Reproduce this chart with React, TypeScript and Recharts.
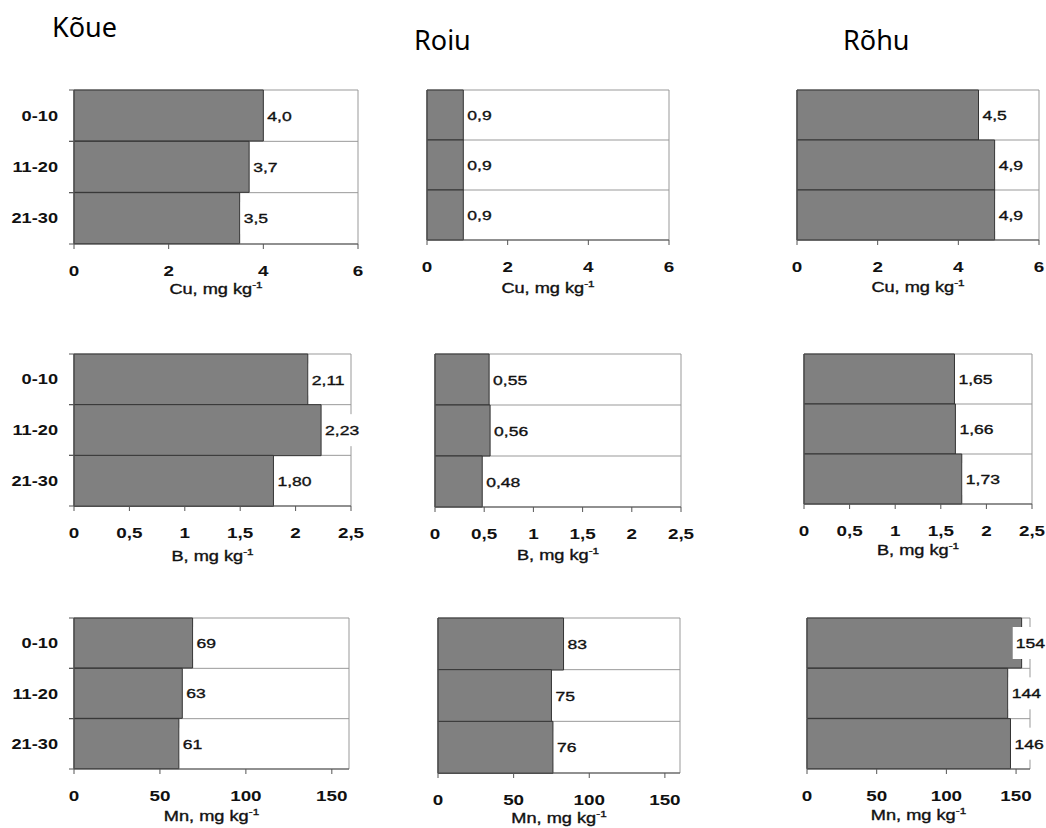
import React from "react";
import { BarChart, Bar, XAxis, YAxis, CartesianGrid, LabelList, Label } from "recharts";

// ---- data ----
const depths = ["0-10", "11-20", "21-30"];
const sites = ["Kõue", "Roiu", "Rõhu"];

const kouCu = [4.0, 3.7, 3.5];
const roiuCu = [0.9, 0.9, 0.9];
const rohuCu = [4.5, 4.9, 4.9];

const kouB = [2.11, 2.23, 1.8];
const roiuB = [0.55, 0.56, 0.48];
const rohuB = [1.65, 1.66, 1.73];

const kouMn = [69, 63, 61];
const roiuMn = [83, 75, 76];
const rohuMn = [154, 144, 146];

const cuTicks = [0, 2, 4, 6];
const bTicks = [0, 0.5, 1, 1.5, 2, 2.5];
const mnTicks = [0, 50, 100, 150];

// ---- styling / layout ----
const FONT = "'Liberation Sans', Arial, sans-serif";
const SX = 1.3;
const ML = 70;
const MT = 10;
const MR = 20;
const XH = 70;

type PanelCfg = {
  values: number[];
  max: number;
  ticks: number[];
  dec: number;
  element: string;
  l: number;
  r: number;
  t: number;
  b: number;
  titleDy: number;
  showY: boolean;
};

const panels: PanelCfg[] = [
  { values: kouCu, max: 6, ticks: cuTicks, dec: 1, element: "Cu", l: 74, r: 358, t: 90, b: 244, titleDy: 50, showY: true },
  { values: roiuCu, max: 6, ticks: cuTicks, dec: 1, element: "Cu", l: 427, r: 669, t: 90, b: 240, titleDy: 53, showY: false },
  { values: rohuCu, max: 6, ticks: cuTicks, dec: 1, element: "Cu", l: 797, r: 1039, t: 90, b: 240, titleDy: 52, showY: false },
  { values: kouB, max: 2.5, ticks: bTicks, dec: 2, element: "B", l: 74, r: 351, t: 354, b: 506, titleDy: 55, showY: true },
  { values: roiuB, max: 2.5, ticks: bTicks, dec: 2, element: "B", l: 435, r: 681, t: 354, b: 507, titleDy: 53, showY: false },
  { values: rohuB, max: 2.5, ticks: bTicks, dec: 2, element: "B", l: 804, r: 1032, t: 354, b: 504, titleDy: 51, showY: false },
  { values: kouMn, max: 160, ticks: mnTicks, dec: 0, element: "Mn", l: 74, r: 349, t: 618, b: 769, titleDy: 52, showY: true },
  { values: roiuMn, max: 160, ticks: mnTicks, dec: 0, element: "Mn", l: 438, r: 680, t: 618, b: 773, titleDy: 50, showY: false },
  { values: rohuMn, max: 160, ticks: mnTicks, dec: 0, element: "Mn", l: 807, r: 1030, t: 618, b: 769, titleDy: 51, showY: false },
];

const fmt = (v: number, dec: number) => v.toFixed(dec).replace(".", ",");

function SText(props: any) {
  const { x, y, size, weight = "normal", anchor = "start", children, sx = SX, bold = 0 } = props;
  return (
    <text
      transform={`translate(${x},${y}) scale(${sx},1)`}
      x={0}
      y={0}
      fontSize={size}
      fontWeight={weight}
      fontFamily={FONT}
      textAnchor={anchor}
      fill="#111"
      stroke={bold ? "#111" : "none"}
      strokeWidth={bold}
    >
      {children}
    </text>
  );
}

function textWidth(s: string, size: number) {
  let w = 0;
  for (const c of s) w += c === "," ? 0.278 : 0.556;
  return w * size * SX;
}

function Panel({ p }: { p: PanelCfg }) {
  const pw = p.r - p.l;
  const ph = p.b - p.t;
  const band = ph / 3;
  const data = depths.map((d, i) => ({ depth: d, v: p.values[i] }));
  const bottom = MT + ph;

  const XTick = (props: any) => {
    const { x, payload } = props;
    return (
      <SText x={x} y={bottom + 32} size={14.5} weight="bold" anchor="middle">
        {String(payload.value).replace(".", ",")}
      </SText>
    );
  };

  const YTick = (props: any) => {
    const { y, payload } = props;
    if (!p.showY) return <g />;
    return (
      <g>
        <line x1={ML - 5} x2={ML} y1={y - band / 2} y2={y - band / 2} stroke="#555" />
        <line x1={ML - 5} x2={ML} y1={y + band / 2} y2={y + band / 2} stroke="#555" />
        <SText x={ML - 16} y={y + 5} size={14} weight="bold" anchor="end">
          {payload.value}
        </SText>
      </g>
    );
  };

  const DataLabel = (props: any) => {
    const x = Number(props.x);
    const y = Number(props.y);
    const w = Number(props.width);
    const h = Number(props.height);
    const s = fmt(Number(props.value), p.dec);
    const size = 13.5;
    const tw = textWidth(s, size);
    let lx = x + w + 4;
    const maxRight = ML + pw + 15;
    if (lx + tw > maxRight) lx = maxRight - tw;
    const cy = y + h / 2;
    return (
      <g>
        <rect x={lx - 3} y={cy - 16} width={tw + 5} height={32} fill="#fff" />
        <SText x={lx} y={cy + 5} size={size} bold={0.35}>
          {s}
        </SText>
      </g>
    );
  };

  const Title = () => (
    <SText x={ML + pw / 2} y={bottom + p.titleDy} size={14} anchor="middle" bold={0.35}>
      <tspan>{p.element}, mg kg</tspan>
      <tspan dy={-6} fontSize={9}>
        -1
      </tspan>
    </SText>
  );

  return (
    <div style={{ position: "absolute", left: p.l - ML, top: p.t - MT }}>
      <BarChart
        width={pw + ML + MR}
        height={ph + MT + XH}
        data={data}
        layout="vertical"
        margin={{ top: MT, right: MR, left: 0, bottom: 0 }}
        barCategoryGap={0}
        style={{ overflow: "visible" }}
      >
        <CartesianGrid
          horizontalPoints={[MT, MT + band, MT + 2 * band, MT + ph]}
          verticalPoints={[ML, ML + pw]}
          stroke="#999"
          fill="#fff"
        />
        <XAxis
          type="number"
          domain={[0, p.max]}
          ticks={p.ticks}
          interval={0}
          height={XH}
          tickSize={5}
          tickLine={{ stroke: "#555" }}
          axisLine={{ stroke: "#555" }}
          tick={<XTick />}
        >
          <Label content={<Title />} />
        </XAxis>
        <YAxis
          type="category"
          dataKey="depth"
          width={ML}
          axisLine={{ stroke: "#555" }}
          tickLine={false}
          tick={<YTick />}
        />
        <Bar dataKey="v" fill="#808080" stroke="#333" strokeWidth={1} isAnimationActive={false}>
          <LabelList dataKey="v" content={<DataLabel />} />
        </Bar>
      </BarChart>
    </div>
  );
}

const titleX = [52, 414, 843];
const titleY = [37, 50, 50];

export default function App() {
  return (
    <div style={{ position: "absolute", left: 0, top: 0, width: 1046, height: 828, background: "#fff" }}>
      <svg width={1046} height={828} style={{ position: "absolute", left: 0, top: 0 }}>
        {sites.map((s, i) => (
          <text key={s} x={titleX[i]} y={titleY[i]} fontSize={27} fontFamily="'Noto Sans', sans-serif" fill="#000">
            {s}
          </text>
        ))}
      </svg>
      {panels.map((p, i) => (
        <Panel key={i} p={p} />
      ))}
    </div>
  );
}
